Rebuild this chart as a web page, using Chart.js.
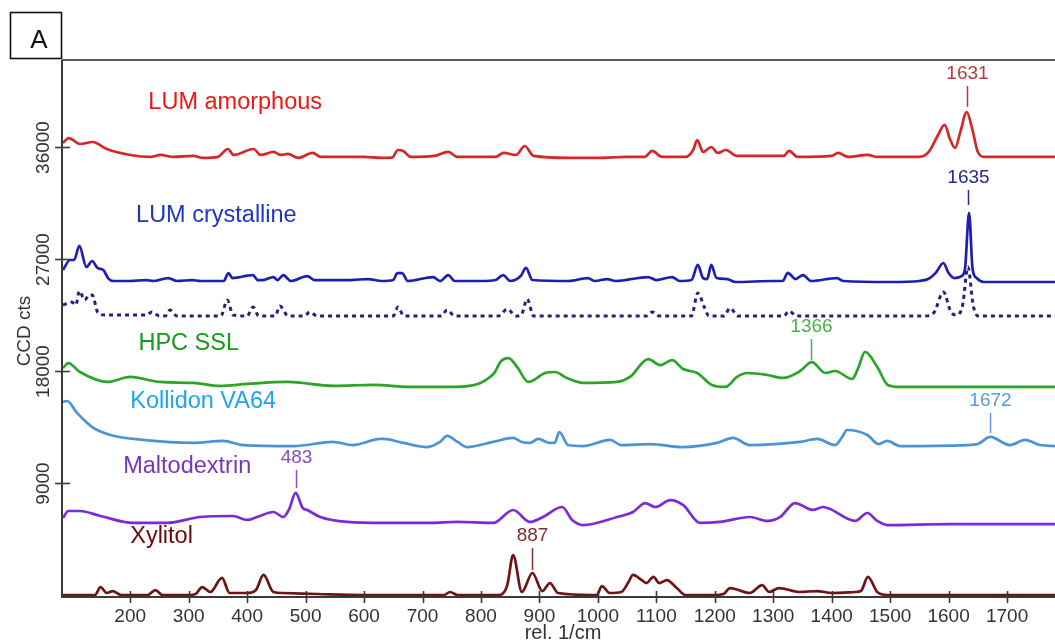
<!DOCTYPE html>
<html>
<head>
<meta charset="utf-8">
<script src="https://cdn.jsdelivr.net/npm/chart.js@4.4.0/dist/chart.umd.min.js"></script>
<style>
  html, body { margin: 0; padding: 0; background: #fff; }
  #wrap { width: 1055px; height: 643px; }
</style>
</head>
<body>
<div id="wrap"><canvas id="spectra" width="1055" height="643"></canvas></div>
<script>
const FONT = '"Liberation Sans", Arial, sans-serif';

// axis ranges and ticks (rel. 1/cm, CCD counts)
const X_RANGE = [85, 1782];
const Y_RANGE = [-160, 42990];
const X_TICKS = [200, 300, 400, 500, 600, 700, 800, 900, 1000, 1100, 1200, 1300, 1400, 1500, 1600, 1700];
const Y_TICKS = [9000, 18000, 27000, 36000];

// spectra as [wavenumber, counts]
const LUM_AMORPHOUS = [
  [85, 36320], [95, 36720], [114, 36240], [136, 36400], [160, 35840], [200, 35360], [234, 35200], [252, 35360],
  [274, 35200], [308, 35280], [325, 35120], [350, 35200], [367, 35840], [377, 35360], [411, 35840], [423, 35360],
  [445, 35600], [457, 35360], [470, 35440], [487, 35120], [512, 35520], [526, 35200], [560, 35200], [600, 35200],
  [630, 35120], [648, 35150], [658, 35760], [667, 35680], [680, 35200], [720, 35280], [744, 35600], [760, 35200],
  [800, 35200], [825, 35200], [839, 35520], [860, 35360], [875, 36080], [890, 35280], [950, 35120], [1000, 35120],
  [1050, 35200], [1080, 35200], [1093, 35680], [1110, 35200], [1150, 35200], [1163, 35760], [1170, 36560],
  [1180, 35600], [1194, 36000], [1205, 35520], [1219, 35760], [1238, 35280], [1300, 35280], [1318, 35280],
  [1327, 35680], [1342, 35200], [1400, 35280], [1411, 35520], [1428, 35200], [1462, 35360], [1478, 35200],
  [1550, 35200], [1566, 35600], [1582, 36960], [1593, 37770], [1603, 36560], [1611, 35920], [1620, 37200],
  [1631, 38810], [1640, 37530], [1650, 35600], [1662, 35200], [1700, 35200], [1782, 35200]
];
const LUM_CRYSTALLINE = [
  [85, 26120], [97, 26920], [104, 26920], [113, 28050], [125, 26360], [135, 26840], [144, 26280], [154, 26120],
  [162, 25470], [171, 25230], [200, 25230], [227, 25310], [240, 25230], [265, 25470], [280, 25230], [306, 25310],
  [320, 25230], [360, 25230], [368, 25870], [375, 25470], [410, 25710], [418, 25310], [427, 25310], [445, 25550],
  [452, 25310], [462, 25710], [475, 25230], [503, 25630], [515, 25310], [576, 25310], [607, 25390], [630, 25230],
  [650, 25310], [657, 25870], [665, 25870], [675, 25230], [718, 25550], [730, 25230], [744, 25710], [755, 25230],
  [800, 25230], [825, 25310], [838, 25710], [850, 25230], [868, 25630], [877, 26280], [888, 25310], [950, 25230],
  [983, 25470], [995, 25230], [1016, 25390], [1030, 25230], [1086, 25550], [1100, 25310], [1127, 25550],
  [1140, 25230], [1160, 25310], [1171, 26520], [1180, 25470], [1187, 25390], [1194, 26520], [1203, 25470],
  [1221, 25390], [1235, 25150], [1300, 25230], [1316, 25230], [1325, 25880], [1338, 25390], [1351, 25710],
  [1365, 25230], [1409, 25470], [1420, 25230], [1500, 25150], [1550, 25230], [1565, 25390], [1578, 25880],
  [1591, 26680], [1600, 25870], [1610, 25470], [1622, 25630], [1628, 26200], [1635, 30700], [1641, 26200],
  [1648, 25470], [1660, 25150], [1782, 25150]
];
const LUM_CRYSTALLINE_REF = [
  [85, 23300], [100, 23540], [107, 23300], [113, 24430], [122, 23700], [130, 24110], [135, 24100], [145, 22660],
  [157, 22500], [200, 22500], [228, 22500], [237, 22740], [250, 22420], [260, 22420], [268, 22900], [280, 22420],
  [355, 22420], [366, 23700], [376, 22500], [400, 22420], [410, 23140], [420, 22420], [448, 22420], [456, 23220],
  [470, 22420], [498, 22420], [507, 22740], [520, 22420], [600, 22420], [650, 22420], [658, 23140], [668, 22420],
  [732, 22420], [742, 22900], [755, 22420], [830, 22420], [845, 22980], [860, 22420], [869, 22500], [879, 23790],
  [890, 22420], [1000, 22420], [1083, 22420], [1093, 22740], [1105, 22420], [1160, 22420], [1171, 24270],
  [1182, 23140], [1190, 22420], [1216, 22420], [1226, 23060], [1240, 22420], [1300, 22420], [1318, 22420],
  [1327, 22820], [1340, 22420], [1560, 22420], [1575, 22700], [1591, 24350], [1604, 22740], [1614, 22500],
  [1624, 23300], [1633, 26360], [1642, 23300], [1650, 22420], [1782, 22420]
];
const HPC_SSL = [
  [85, 18240], [94, 18640], [114, 17920], [161, 17120], [200, 17520], [251, 17120], [308, 17040], [354, 16800],
  [400, 16960], [469, 17120], [547, 16800], [616, 16880], [679, 16720], [747, 16720], [780, 16800], [799, 17040],
  [815, 17500], [824, 17920], [833, 18720], [847, 19040], [862, 18320], [881, 17120], [910, 17840], [927, 17920],
  [947, 17440], [975, 17040], [1033, 17120], [1055, 17520], [1086, 18960], [1107, 18480], [1127, 18880],
  [1146, 18160], [1170, 17840], [1195, 16880], [1218, 16720], [1238, 17520], [1255, 17840], [1290, 17680],
  [1317, 17440], [1346, 18000], [1366, 18720], [1389, 17840], [1406, 18000], [1435, 17360], [1445, 18200],
  [1457, 19530], [1478, 18320], [1496, 16880], [1517, 16720], [1600, 16720], [1782, 16720]
];
const KOLLIDON_VA64 = [
  [85, 15510], [92, 15590], [109, 14630], [137, 13420], [166, 12860], [222, 12460], [308, 12220], [359, 12380],
  [393, 12050], [479, 11970], [547, 12300], [581, 12050], [628, 12540], [633, 12540], [667, 12220], [708, 11890],
  [730, 12300], [742, 12780], [760, 12300], [776, 11890], [821, 12300], [855, 12620], [870, 12300], [884, 12220],
  [898, 12540], [918, 12220], [926, 12220], [934, 13100], [949, 12050], [975, 11970], [1021, 12460], [1040, 12050],
  [1089, 12130], [1146, 11890], [1204, 12220], [1231, 12620], [1260, 12050], [1346, 12300], [1375, 12540],
  [1406, 12050], [1418, 12700], [1426, 13260], [1461, 12860], [1480, 12130], [1495, 12380], [1517, 11970],
  [1632, 12050], [1650, 12130], [1671, 12700], [1705, 12050], [1731, 12460], [1756, 12050], [1782, 11970]
];
const MALTODEXTRIN = [
  [85, 6190], [94, 6750], [114, 6750], [149, 6350], [205, 5790], [263, 5790], [320, 6270], [376, 6350], [400, 6030],
  [417, 6270], [445, 6670], [462, 6270], [472, 6900], [483, 8200], [495, 7000], [503, 6830], [525, 6270],
  [571, 5870], [633, 5790], [713, 5790], [759, 5870], [821, 5790], [855, 6830], [884, 5870], [906, 6270],
  [939, 7070], [956, 6030], [975, 5620], [1033, 6270], [1060, 6670], [1081, 7390], [1098, 7070], [1124, 7630],
  [1146, 7230], [1175, 5790], [1209, 5870], [1260, 6270], [1290, 5950], [1312, 6270], [1337, 7390], [1368, 6830],
  [1385, 7070], [1440, 5950], [1461, 6590], [1478, 5950], [1495, 5620], [1600, 5700], [1782, 5700]
];
const XYLITOL = [
  [85, 0], [130, 0], [140, 0], [149, 640], [160, 160], [170, 320], [185, 0], [230, 0], [243, 400], [255, 0],
  [300, 0], [312, 80], [323, 640], [337, 240], [357, 1370], [370, 160], [400, 160], [415, 400], [428, 1610],
  [445, 240], [462, 160], [520, 80], [600, 0], [700, 0], [737, 0], [747, 240], [760, 0], [830, 0], [845, 800],
  [855, 3210], [870, 240], [888, 1770], [905, 320], [918, 960], [932, 160], [990, 0], [998, 0], [1007, 720],
  [1020, 160], [1040, 240], [1052, 1000], [1060, 1610], [1075, 1200], [1083, 960], [1095, 1450], [1105, 960],
  [1118, 1200], [1135, 560], [1150, 0], [1200, 0], [1215, 80], [1226, 560], [1260, 160], [1281, 800], [1293, 240],
  [1310, 560], [1345, 240], [1375, 320], [1400, 160], [1440, 240], [1450, 320], [1462, 1450], [1478, 240],
  [1495, 0], [1782, 0]
];

// series names drawn next to the traces: [text, wavenumber (left edge), counts (middle)]
const SERIES_LABELS = [
  ['LUM amorphous', 231, 39540, '#ee1515'],
  ['LUM crystalline', 210, 30460, '#1f36c0'],
  ['HPC SSL', 214, 20170, '#179a17'],
  ['Kollidon VA64', 200, 15510, '#1ea4f5'],
  ['Maltodextrin', 188, 10290, '#7a34bf'],
  ['Xylitol', 200, 4740, '#6b0808']
];

// peak markers: [text, wavenumber, line bottom, line top (counts)]
const PEAK_MARKS = [
  ['1631', 1631, 39220, 40900, '#b83a3a'],
  ['1635', 1633, 31340, 32550, '#262a8a'],
  ['1366', 1365, 18880, 20570, '#4cb04c'],
  ['1672', 1671, 13020, 14630, '#5a9ad2'],
  ['483', 484, 8600, 10045, '#8a4ac4'],
  ['887', 888, 2010, 3780, '#7a3030']
];

const toPoints = (arr) => arr.map(([x, y]) => ({ x, y }));

function trace(label, points, color, dash) {
  return {
    label,
    data: toPoints(points),
    borderColor: color,
    borderWidth: dash ? 3 : 2.7,
    borderDash: dash || [],
    pointRadius: 0,
    fill: false,
    cubicInterpolationMode: 'monotone'
  };
}

const frame = {
  id: 'frame',
  afterDraw(chart) {
    const { ctx, chartArea: a, scales: { x, y } } = chart;
    ctx.save();

    // panel tag
    ctx.strokeStyle = '#111';
    ctx.lineWidth = 1.6;
    ctx.strokeRect(10.5, 12.5, 51, 46);
    ctx.fillStyle = '#111';
    ctx.font = `26px ${FONT}`;
    ctx.textAlign = 'center';
    ctx.textBaseline = 'alphabetic';
    ctx.fillText('A', 39, 48);

    // axis lines
    ctx.lineWidth = 2;
    ctx.strokeStyle = '#5a5a5a';
    ctx.beginPath();
    ctx.moveTo(a.left - 1, a.top);
    ctx.lineTo(a.right, a.top);
    ctx.stroke();
    ctx.strokeStyle = '#3a3a3a';
    ctx.beginPath();
    ctx.moveTo(a.left - 1, a.top);
    ctx.lineTo(a.left - 1, a.bottom);
    ctx.lineTo(a.right, a.bottom);
    ctx.stroke();

    // tick marks cross the axes
    ctx.lineWidth = 1.6;
    X_TICKS.forEach((v) => {
      const px = Math.round(x.getPixelForValue(v)) + 0.5;
      ctx.beginPath();
      ctx.moveTo(px, a.bottom - 6);
      ctx.lineTo(px, a.bottom + 6);
      ctx.stroke();
    });
    ctx.fillStyle = '#333';
    ctx.font = `19px ${FONT}`;
    Y_TICKS.forEach((v) => {
      const py = Math.round(y.getPixelForValue(v)) + 0.5;
      ctx.beginPath();
      ctx.moveTo(a.left - 8, py);
      ctx.lineTo(a.left + 7, py);
      ctx.stroke();
      ctx.save();
      ctx.translate(44, py);
      ctx.rotate(-Math.PI / 2);
      ctx.textAlign = 'center';
      ctx.textBaseline = 'middle';
      ctx.fillText(String(v), 0, 0);
      ctx.restore();
    });

    // axis titles
    ctx.save();
    ctx.translate(25, 331);
    ctx.rotate(-Math.PI / 2);
    ctx.textAlign = 'center';
    ctx.textBaseline = 'middle';
    ctx.fillText('CCD cts', 0, 0);
    ctx.restore();
    ctx.font = `20px ${FONT}`;
    ctx.textAlign = 'center';
    ctx.textBaseline = 'middle';
    ctx.fillText('rel. 1/cm', 563, 633);

    // series names
    ctx.font = `23.5px ${FONT}`;
    ctx.textAlign = 'left';
    SERIES_LABELS.forEach(([text, wx, wy, color]) => {
      ctx.fillStyle = color;
      ctx.fillText(text, x.getPixelForValue(wx), y.getPixelForValue(wy));
    });

    // peak markers
    ctx.font = `19px ${FONT}`;
    ctx.textAlign = 'center';
    ctx.lineWidth = 1.5;
    PEAK_MARKS.forEach(([text, wx, lo, hi, color]) => {
      const px = Math.round(x.getPixelForValue(wx)) + 0.5;
      const top = y.getPixelForValue(hi);
      ctx.strokeStyle = color;
      ctx.beginPath();
      ctx.moveTo(px, y.getPixelForValue(lo));
      ctx.lineTo(px, top);
      ctx.stroke();
      ctx.fillStyle = color;
      ctx.fillText(text, px, top - 12);
    });

    ctx.restore();
  }
};

new Chart(document.getElementById('spectra'), {
  type: 'line',
  data: {
    datasets: [
      trace('LUM amorphous', LUM_AMORPHOUS, '#d42828'),
      trace('LUM crystalline', LUM_CRYSTALLINE, '#1e1eb0'),
      trace('LUM crystalline (ref)', LUM_CRYSTALLINE_REF, '#23237e', [4, 4]),
      trace('HPC SSL', HPC_SSL, '#2aa52a'),
      trace('Kollidon VA64', KOLLIDON_VA64, '#4b93d6'),
      trace('Maltodextrin', MALTODEXTRIN, '#7b2bd6'),
      trace('Xylitol', XYLITOL, '#6e1414')
    ]
  },
  options: {
    responsive: false,
    animation: false,
    devicePixelRatio: 1,
    layout: { padding: { top: 60, left: 0, right: 0, bottom: 0 } },
    scales: {
      x: {
        type: 'linear',
        min: X_RANGE[0],
        max: X_RANGE[1],
        afterBuildTicks: (scale) => { scale.ticks = X_TICKS.map((value) => ({ value })); },
        afterFit: (scale) => { scale.height = 46; },
        grid: { display: false, drawTicks: false },
        border: { display: false },
        ticks: {
          color: '#333',
          padding: 8,
          maxRotation: 0,
          autoSkip: false,
          font: { family: FONT, size: 19 },
          callback: (value) => String(value)
        }
      },
      y: {
        type: 'linear',
        min: Y_RANGE[0],
        max: Y_RANGE[1],
        afterFit: (scale) => { scale.width = 63; },
        grid: { display: false, drawTicks: false },
        border: { display: false },
        ticks: { display: false }
      }
    },
    plugins: {
      legend: { display: false },
      tooltip: { enabled: false }
    }
  },
  plugins: [frame]
});
</script>
</body>
</html>
